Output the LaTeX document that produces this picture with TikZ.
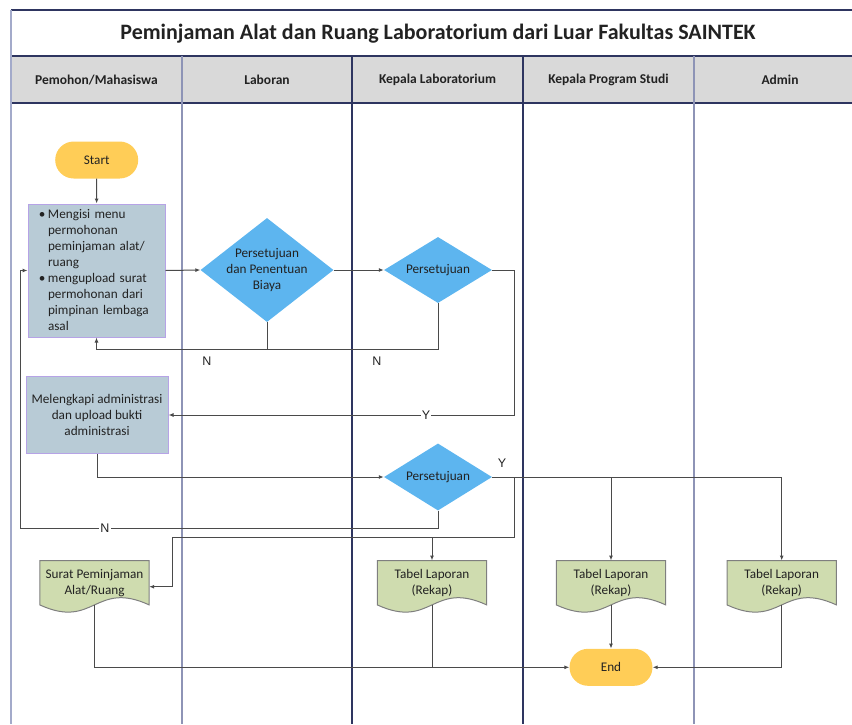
\documentclass[tikz,border=0pt]{standalone}
\usepackage{fontspec}
\setmainfont{Carlito}
\newfontfamily\branchfont{Liberation Sans}
\usetikzlibrary{shapes.geometric,arrows.meta,calc,backgrounds}

\definecolor{lanedark}{HTML}{2E3560}
\definecolor{lanelight}{HTML}{8E94B6}
\definecolor{frameline}{HTML}{A3AACA}
\definecolor{headfill}{HTML}{D9D9D9}
\definecolor{termfill}{HTML}{FFCD57}
\definecolor{decfill}{HTML}{5DB5EF}
\definecolor{procfill}{HTML}{B8CBD6}
\definecolor{procline}{HTML}{B6A3E6}
\definecolor{docfill}{HTML}{CFDCAF}
\definecolor{docline}{HTML}{7F7F7F}
\definecolor{connc}{HTML}{4A4A4A}
\definecolor{txt}{HTML}{222222}

% bullet placed just before the item text
\newcommand{\stepbullet}{\makebox[10pt][r]{•\hspace{2.5pt}}}
\newcommand{\stepindent}{\hspace*{10pt}}

\begin{document}
\begin{tikzpicture}[x=1pt,y=-1pt,
  body/.style={font=\fontsize{13.2}{16}\selectfont, text=txt},
  conn/.style={draw=connc, line width=1pt},
  arr/.style={conn, -{Latex[length=5pt,width=4pt]}},
  term/.style={body, fill=termfill, rounded corners=18.5pt, minimum width=83pt,
    minimum height=37pt, inner sep=0pt},
  proc/.style={body, fill=procfill, draw=procline, line width=1pt, inner sep=0pt},
  dec/.style={shape=diamond, fill=decfill, inner sep=0pt},
  dectext/.style={body, align=center},
  docnode/.style={body, minimum width=109pt, minimum height=44pt, inner sep=0pt, align=center},
  docshape/.style={draw=docline, fill=docfill, line width=1pt},
  yn/.style={font=\branchfont\fontsize{12.5}{14}\selectfont, text=txt, inner sep=1pt},
  headtext/.style={font=\bfseries\fontsize{13.5}{16}\selectfont, text=txt}]

\useasboundingbox (0,0) rectangle (852,724);

% swimlane frame, header band and lane dividers
\begin{scope}
  \clip (0,0) rectangle (852,724);
  \fill[headfill] (11,56) rectangle (880,103);
  \draw[lanedark, line width=1.2pt] (11,10) -- (880,10);
  \draw[lanedark, line width=1.2pt] (11,56) -- (880,56);
  \draw[lanedark, line width=1.2pt] (11,103) -- (880,103);
  \draw[frameline, line width=2pt] (11,10) -- (11,724);
  \draw[lanelight, line width=1.2pt] (182,56) -- (182,724);
  \draw[lanedark, line width=1.2pt] (352,56) -- (352,724);
  \draw[lanedark, line width=1.2pt] (523,56) -- (523,724);
  \draw[lanelight, line width=1.2pt] (694,56) -- (694,724);
\end{scope}

\node[font=\bfseries\fontsize{22}{26}\selectfont, text=txt] (title) at (438,34)
  {Peminjaman Alat dan Ruang Laboratorium dari Luar Fakultas SAINTEK};
\node[headtext] (h1) at (96.5,80) {Pemohon/Mahasiswa};
\node[headtext] (h2) at (267,80) {Laboran};
\node[headtext] (h3) at (437.5,80) {Kepala Laboratorium};
\node[headtext] (h4) at (608.5,80) {Kepala Program Studi};
\node[headtext] (h5) at (780,80) {Admin};

% process steps
\node[term] (start) at (96.7,160) {Start};
\node[proc, minimum width=137pt, minimum height=133pt, text width=117pt,
      inner xsep=10pt, align=left] (box1) at (96.5,270.5)
  {\stepbullet Mengisi menu\\
   \stepindent permohonan\\
   \stepindent peminjaman alat/\\
   \stepindent ruang\\
   \stepbullet mengupload surat\\
   \stepindent permohonan dari\\
   \stepindent pimpinan lembaga\\
   \stepindent asal};
\node[proc, minimum width=142pt, minimum height=77pt, align=center] (box2) at (97,415)
  {Melengkapi administrasi\\dan upload bukti\\administrasi};

\node[dec, minimum width=133pt, minimum height=104pt,
      label={[dectext]center:Persetujuan\\dan Penentuan\\Biaya}] (d1) at (267,270) {};
\node[dec, minimum width=108pt, minimum height=66pt,
      label={[dectext]center:Persetujuan}] (d2) at (438,270) {};
\node[dec, minimum width=108pt, minimum height=67pt,
      label={[dectext]center:Persetujuan}] (d3) at (438,477) {};

% output documents
\node[docnode] (doc1) at (94.5,582.7) {Surat Peminjaman\\Alat/Ruang};
\node[docnode] (doc2) at (432,582.7) {Tabel Laporan\\(Rekap)};
\node[docnode] (doc3) at (611,582.7) {Tabel Laporan\\(Rekap)};
\node[docnode] (doc4) at (781.7,582.7) {Tabel Laporan\\(Rekap)};
\begin{scope}[on background layer]
  \foreach \d in {doc1,doc2,doc3,doc4} {
    \draw[docshape] (\d.north west) -- (\d.north east) -- (\d.south east)
      .. controls ($(\d.south east)+(-54.5,-25)$) and ($(\d.south west)+(54.5,25)$) .. (\d.south west)
      -- cycle;
  }
\end{scope}

\node[term] (end) at (611,667.3) {End};

% connectors
\coordinate (nrow) at (0,349);
\coordinate (yr) at ($(d2.east)+(22,0)$);
\coordinate (yj) at ($(d3.east)+(22,0)$);
\coordinate (nb) at (20,528);
\coordinate (bend) at (172,537);

\draw[arr] (start) -- (box1);
\draw[arr] (box1.east) -- (d1.west);
\draw[arr] (d1.east) -- (d2.west);
\draw[conn] (d1.south) -- (d1.south |- nrow);
\draw[arr] (d2.south) |- (nrow -| box1.south) -- (box1.south);
\draw[arr] (d2.east) -- (yr) |- (box2.east);
\draw[arr] (box2.south) |- (d3.west);
\draw[arr] (d3.south) |- (nb) |- (box1.west);
\draw[arr] (d3.east) -| (doc4.north);
\draw[arr] (d3.east -| doc3.north) -- (doc3.north);
\draw[arr] (yj) |- (bend) |- ($(doc1.east)+(0,4)$);
\draw[arr] (yj |- bend) -| (doc2.north);
\draw[arr] (doc1.south) |- (end.west);
\draw[conn] (doc2.south) -- (doc2.south |- end.west);
\draw[arr] (doc3.south) -- (end.north);
\draw[arr] (doc4.south) |- (end.east);

% branch labels
\node[yn] (n1) at (207,361) {N};
\node[yn] (n2) at (377,361) {N};
\node[yn, fill=white] (y1) at (426,415) {Y};
\node[yn, fill=white] (n3) at (105,528) {N};
\node[yn] (y2) at (502,463) {Y};

\end{tikzpicture}
\end{document}
